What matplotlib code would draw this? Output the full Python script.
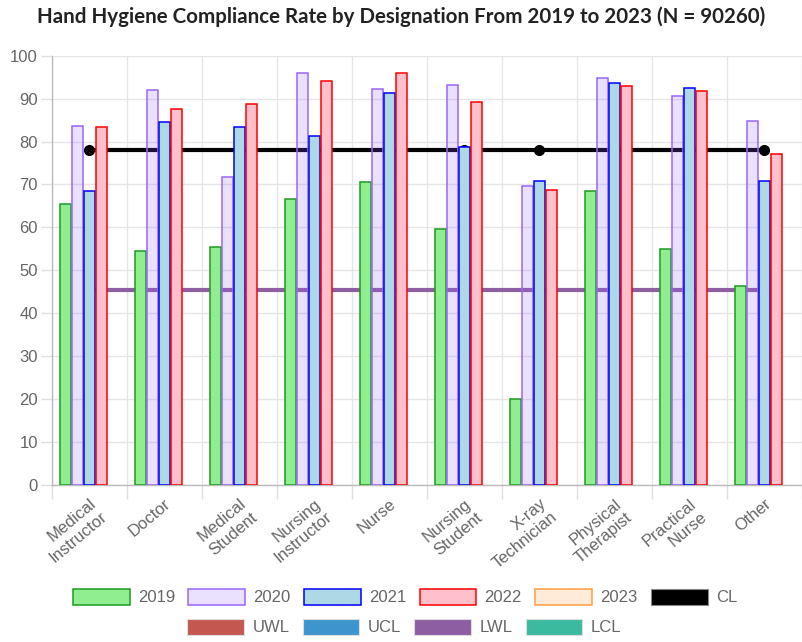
import matplotlib
matplotlib.use("Agg")
import matplotlib.pyplot as plt
from matplotlib.patches import Patch
import numpy as np

# Data
designations = ["Medical\nInstructor", "Doctor", "Medical\nStudent", "Nursing\nInstructor",
                "Nurse", "Nursing\nStudent", "X-ray\nTechnician", "Physical\nTherapist",
                "Practical\nNurse", "Other"]
rate_2019 = [65.5, 54.6, 55.5, 66.6, 70.6, 59.7, 20.0, 68.6, 55.0, 46.3]
rate_2020 = [83.6, 91.9, 71.7, 95.9, 92.2, 93.2, 69.6, 94.7, 90.5, 84.7]
rate_2021 = [68.4, 84.6, 83.3, 81.3, 91.4, 78.8, 70.9, 93.6, 92.5, 70.8]
rate_2022 = [83.4, 87.5, 88.8, 94.1, 95.9, 89.1, 68.8, 93.0, 91.7, 77.1]
rate_2023 = [None] * 10
cl = [78.1] * 10
lwl = [45.4] * 10
uwl = [None] * 10
ucl = [None] * 10
lcl = [None] * 10

years = ["2019", "2020", "2021", "2022", "2023"]
year_values = [rate_2019, rate_2020, rate_2021, rate_2022, rate_2023]
fills = ["#90ee90", (153/255, 102/255, 1, 0.2), "#add8e6", "#ffc0cb", (1, 159/255, 64/255, 0.2)]
edges = ["#1e9a1e", "#9966ff", "#0000ff", "#ff0000", "#ff9f40"]

plt.rcParams['font.family'] = ['Liberation Sans', 'DejaVu Sans']

fig = plt.figure(figsize=(8.02, 6.42), dpi=100)
ax = fig.add_axes([51.7 / 802, 1 - 485 / 642, (801.7 - 51.7) / 802, (485 - 55.7) / 642])

x = np.arange(len(designations))
width = 0.8 / 5 * 0.9

def clean(vals):
    return np.array([np.nan if v is None else v for v in vals], dtype=float)

for i, (yr, vals) in enumerate(zip(years, year_values)):
    ax.bar(x + (i - 2) * 0.16, clean(vals), width, color=fills[i], edgecolor=edges[i],
           linewidth=1.1, zorder=3)

# control lines (drawn behind the bars)
ax.plot(x, clean(cl), color="black", linewidth=3, marker="o", markersize=7, zorder=2)
ax.plot(x, clean(lwl), color="#8e5ea2", linewidth=3, marker="o", markersize=6, zorder=2)
ax.plot(x, clean(uwl), color="#c45850", linewidth=3, zorder=2)
ax.plot(x, clean(ucl), color="#3e95cd", linewidth=3, zorder=2)
ax.plot(x, clean(lcl), color="#3cba9f", linewidth=3, zorder=2)

ax.set_xlim(-0.5, 9.5)
ax.set_ylim(0, 100)
ax.set_yticks(np.arange(0, 101, 10))
ax.set_xticks(x)
ax.set_xticklabels(designations, rotation=40, ha="right", va="top", rotation_mode="anchor")
ax.set_xticks(np.arange(-0.5, 10, 1), minor=True)
ax.tick_params(axis="x", which="major", length=0, pad=8, labelsize=12, labelcolor="#666666")
ax.tick_params(axis="x", which="minor", length=10, color="#e0e0e0", width=1)
ax.tick_params(axis="y", length=8, color="#e0e0e0", width=1, labelsize=12, labelcolor="#666666", pad=2)
ax.grid(True, axis="y", color="#e6e6e6", linewidth=1, zorder=0)
ax.grid(True, axis="x", which="minor", color="#e6e6e6", linewidth=1, zorder=0)
ax.set_axisbelow(True)
for s in ["top", "right"]:
    ax.spines[s].set_visible(False)
for s in ["left", "bottom"]:
    ax.spines[s].set_color("#bbbbbb")
    ax.spines[s].set_linewidth(1)

fig.text(0.5, 1 - 17 / 642, "Hand Hygiene Compliance Rate by Designation From 2019 to 2023 (N = 90260)",
         ha="center", va="center", fontsize=14.8, fontweight="bold", family="Lato", color="#222222")

# legend rows
row1 = [Patch(facecolor=fills[i], edgecolor=edges[i], linewidth=1.1, label=years[i]) for i in range(5)]
row1.append(Patch(facecolor="black", edgecolor="#888888", linewidth=0.8, label="CL"))
row2 = [Patch(facecolor=c, edgecolor="#dddddd", linewidth=0.8, label=l)
        for c, l in zip(["#c45850", "#3e95cd", "#8e5ea2", "#3cba9f"], ["UWL", "UCL", "LWL", "LCL"])]

leg_kw = dict(frameon=False, fontsize=12, handlelength=3.4, handleheight=1.15,
              handletextpad=0.5, columnspacing=0.8, labelcolor="#666666", loc="center")
leg1 = fig.legend(handles=row1, ncol=6, bbox_to_anchor=(0.505, 1 - 597 / 642), **leg_kw)
fig.legend(handles=row2, ncol=4, bbox_to_anchor=(0.504, 1 - 627 / 642), **leg_kw)

fig.savefig("out.png", dpi=100)
